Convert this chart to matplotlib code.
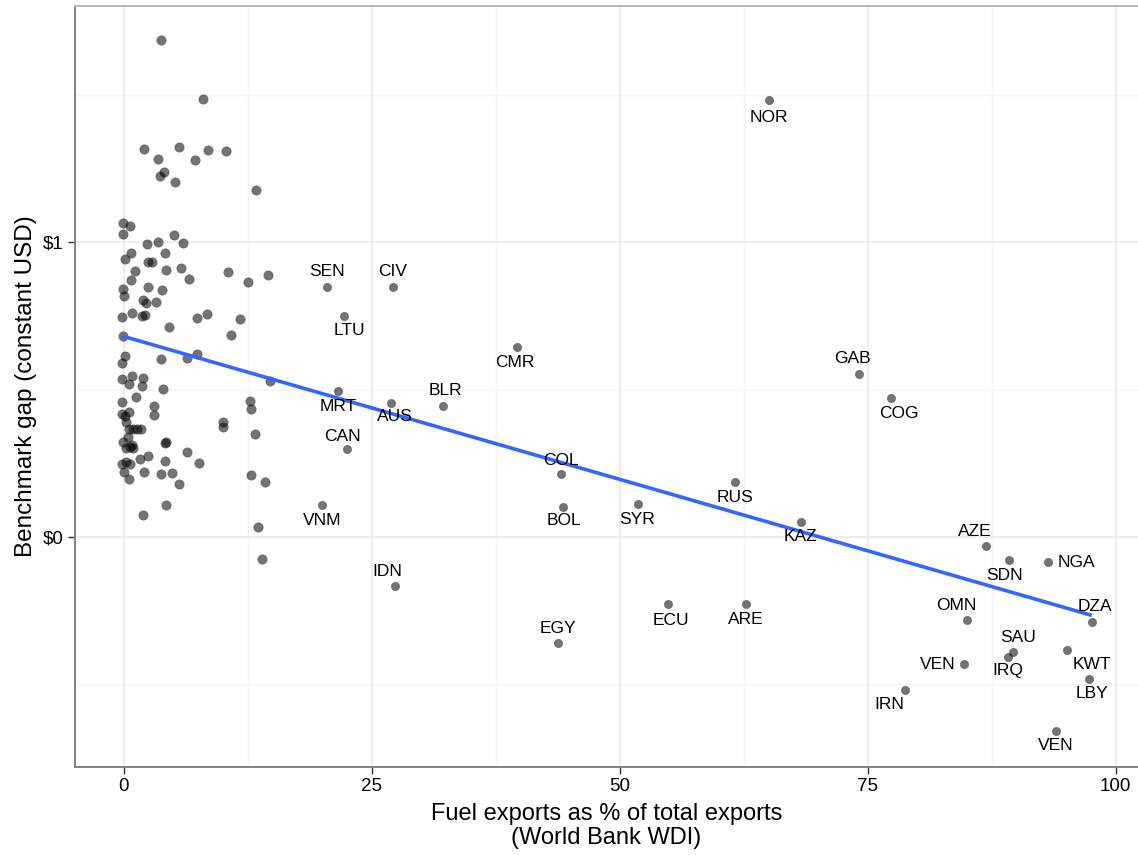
import matplotlib.pyplot as plt
import numpy as np

plt.rcParams['font.family'] = ['Liberation Sans', 'DejaVu Sans']

# unlabelled countries (fuel exports %, benchmark gap)
fuel_other = [3.8, 7.96, 2.0, 5.6, 8.47, 10.3, 3.5, 7.2, 4.1, 3.7, 5.2, 13.3,
              -0.04, 0.64, -0.1, 5.07, 3.46, 2.3, 5.95, 4.13, 0.7, 0.13, 2.48, 2.88,
              4.3, 5.75, 1.1, 0.7, 6.58, 10.55, 12.5, 14.5, -0.1, 0.03, 2.45, 3.9,
              1.9, 2.2, 3.3, -0.14, 0.8, 1.8, 2.15, 4.57, 7.4, 8.43, 11.7, 10.85, -0.1,
              0.13, -0.14, 3.76, 6.35, 7.42, -0.17, 0.87, 1.95, 0.56, 1.8, 3.96, 14.7,
              -0.14, 1.24, 3.09, 3.02, 0.5, -0.2, 0.1, 12.7, 12.8, 9.98, 9.98, 13.2,
              0.23, 0.5, 0.97, 1.37, 1.71, -0.04, 0.43, 0.64, 0.87, 4.2, 4.3, 6.38,
              7.56, 2.42, 1.64, 4.16, -0.2, 0.23, 0.64, 0.03, 0.53, 2.0, 3.73, 4.84,
              5.6, 12.87, 14.2, 4.3, 1.98, 13.5, 13.97, 0.2, 0.9]
gap_other = [1.687, 1.488, 1.317, 1.323, 1.315, 1.311, 1.282, 1.281, 1.238, 1.224, 1.204, 1.178,
             1.065, 1.056, 1.028, 1.026, 1.003, 0.993, 0.997, 0.963, 0.963, 0.943, 0.932, 0.932,
             0.907, 0.914, 0.904, 0.871, 0.874, 0.900, 0.865, 0.889, 0.842, 0.819, 0.848, 0.838,
             0.806, 0.795, 0.798, 0.745, 0.760, 0.751, 0.755, 0.713, 0.742, 0.757, 0.739, 0.686, 0.682,
             0.615, 0.589, 0.604, 0.609, 0.621, 0.535, 0.545, 0.541, 0.520, 0.511, 0.501, 0.530,
             0.457, 0.474, 0.443, 0.412, 0.425, 0.417, 0.410, 0.462, 0.434, 0.390, 0.372, 0.349,
             0.391, 0.367, 0.367, 0.367, 0.365, 0.323, 0.340, 0.306, 0.311, 0.317, 0.322, 0.288,
             0.249, 0.275, 0.265, 0.259, 0.247, 0.255, 0.247, 0.221, 0.197, 0.220, 0.214, 0.215,
             0.178, 0.210, 0.186, 0.109, 0.075, 0.032, -0.075, 0.300, 0.300]

# labelled countries
codes = ['SEN', 'CIV', 'LTU', 'MRT', 'CAN', 'AUS', 'VNM', 'IDN', 'BLR', 'CMR', 'COL',
         'BOL', 'SYR', 'RUS', 'KAZ', 'EGY', 'ECU', 'ARE', 'GAB', 'COG', 'AZE', 'SDN',
         'NGA', 'OMN', 'DZA', 'SAU', 'IRQ', 'KWT', 'LBY', 'VEN', 'IRN', 'VEN', 'NOR']
fuel_lab = [20.5, 27.1, 22.2, 21.6, 22.5, 26.9, 20.0, 27.35, 32.2, 39.6, 44.1,
            44.3, 51.8, 61.65, 68.25, 43.8, 54.9, 62.7, 74.15, 77.4, 86.95, 89.2,
            93.2, 85.0, 97.6, 89.6, 89.1, 95.1, 97.3, 84.7, 78.8, 94.0, 65.05]
gap_lab = [0.849, 0.849, 0.750, 0.496, 0.297, 0.456, 0.107, -0.167, 0.445, 0.643, 0.212,
           0.102, 0.113, 0.187, 0.049, -0.360, -0.229, -0.229, 0.553, 0.472, -0.031, -0.078,
           -0.086, -0.281, -0.289, -0.391, -0.408, -0.383, -0.483, -0.432, -0.520, -0.661, 1.483]

# label offsets in pixels (right, down)
offsets = [(0, -15), (0, -15), (6, 15), (0, 16), (-4, -13), (4, 14), (0, 15), (-8, -14),
           (2, -15), (-2, 15), (0, -14), (1, 14), (0, 16), (0, 16), (0, 14), (0, -14),
           (3, 16), (0, 15), (-7, -15), (7, 16), (-11, -14), (-4, 16), (28, 0), (-11, -14),
           (3, -15), (6, -14), (0, 14), (25, 15), (3, 15), (-26, 1), (-16, 15), (0, 14), (0, 17)]

fig = plt.figure(figsize=(11.38, 8.55), dpi=100)
ax = fig.add_axes([75/1138, 88/855, 1063/1138, 761/855])

for v in [12.5, 37.5, 62.5, 87.5]:
    ax.axvline(v, color='#f4f4f4', lw=1, zorder=0)
for v in [-0.5, 0.5, 1.5]:
    ax.axhline(v, color='#f4f4f4', lw=1, zorder=0)
for v in [0, 25, 50, 75, 100]:
    ax.axvline(v, color='#e8e8e8', lw=1.1, zorder=0)
for v in [0, 1]:
    ax.axhline(v, color='#e8e8e8', lw=1.1, zorder=0)

ax.scatter(fuel_other, gap_other, s=46, color='black', alpha=0.55,
           edgecolors='#222222', linewidths=0.4, zorder=2)
ax.scatter(fuel_lab, gap_lab, s=36, color='black', alpha=0.55,
           edgecolors='#222222', linewidths=0.4, zorder=2)

fuel_all = np.array(fuel_other + fuel_lab)
gap_all = np.array(gap_other + gap_lab)
slope, icept = np.polyfit(fuel_all, gap_all, 1)
xs = np.array([fuel_all.min(), fuel_all.max()])
ax.plot(xs, icept + slope*xs, color='#3366ff', lw=2.6, zorder=3, solid_capstyle='butt')

for c, x, y, (dx, dy) in zip(codes, fuel_lab, gap_lab, offsets):
    ax.annotate(c, (x, y), xytext=(dx*0.72, -dy*0.72), textcoords='offset points',
                ha='center', va='center', fontsize=12.5, color='black', zorder=4)

ax.set_xlim(-4.91, 102.25)
ax.set_ylim(-0.782, 1.803)
ax.set_xticks([0, 25, 50, 75, 100])
ax.set_yticks([0, 1])
ax.set_yticklabels(['$0', '$1'])
ax.tick_params(length=5, width=1, color='#333333', labelsize=13.5, pad=3, labelcolor='black')

ax.spines['right'].set_visible(False)
ax.spines['top'].set_color('#b8b8b8')
ax.spines['left'].set_color('#808080')
ax.spines['bottom'].set_color('#808080')
for s in ['top', 'left', 'bottom']:
    ax.spines[s].set_linewidth(1.4)

ax.set_xlabel('Fuel exports as % of total exports\n(World Bank WDI)', fontsize=17,
              linespacing=1.1, labelpad=6)
ax.set_ylabel('Benchmark gap (constant USD)', fontsize=17.5, labelpad=4)

fig.savefig('out.png', dpi=100)
